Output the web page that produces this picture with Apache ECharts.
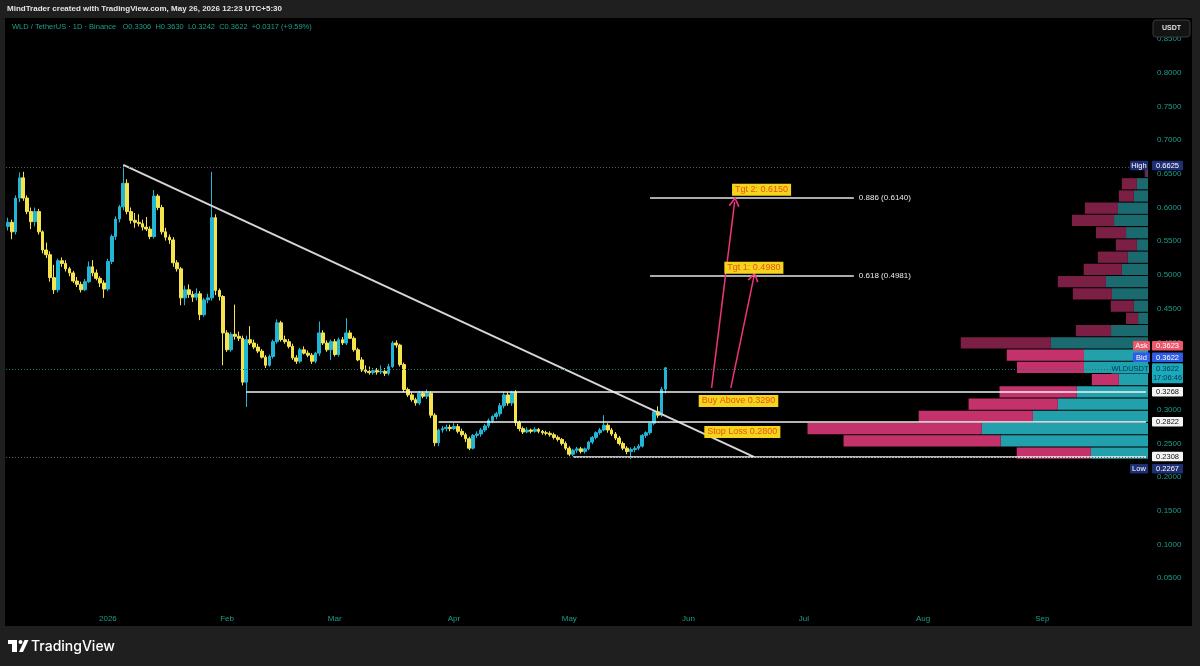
<!DOCTYPE html>
<html lang="en">
	<head>
		<meta charset="UTF-8">
		<title>WLD / TetherUS 1D</title>
		<script src="https://cdn.jsdelivr.net/npm/echarts@6/dist/echarts.min.js"></script>
		<style>
			html, body { margin: 0; padding: 0; background: #1f1f1f; }
			#chart { width: 1200px; height: 666px; }
		</style>
	</head>
	<body>
		<div id="chart"></div>

		<script>
			// daily candles from 2025-12-06 to 2026-05-26, [open, high, low, close]
			const candles = [
				[0.572, 0.585, 0.566, 0.578], [0.578, 0.582, 0.553, 0.564], [0.564, 0.618, 0.560, 0.614], [0.614, 0.652, 0.608, 0.644],
				[0.644, 0.653, 0.610, 0.614], [0.614, 0.618, 0.590, 0.594], [0.594, 0.600, 0.568, 0.579], [0.579, 0.600, 0.572, 0.594],
				[0.594, 0.598, 0.560, 0.564], [0.564, 0.566, 0.532, 0.537], [0.537, 0.548, 0.525, 0.530], [0.530, 0.535, 0.490, 0.496],
				[0.496, 0.515, 0.472, 0.478], [0.478, 0.524, 0.474, 0.521], [0.521, 0.526, 0.512, 0.517], [0.517, 0.522, 0.505, 0.509],
				[0.509, 0.512, 0.498, 0.503], [0.503, 0.506, 0.488, 0.491], [0.491, 0.497, 0.482, 0.486], [0.486, 0.490, 0.474, 0.478],
				[0.478, 0.494, 0.476, 0.490], [0.490, 0.520, 0.488, 0.512], [0.512, 0.522, 0.498, 0.503], [0.503, 0.508, 0.492, 0.495],
				[0.495, 0.498, 0.482, 0.488], [0.488, 0.492, 0.466, 0.479], [0.479, 0.524, 0.476, 0.520], [0.520, 0.560, 0.516, 0.557],
				[0.557, 0.587, 0.552, 0.583], [0.583, 0.604, 0.578, 0.601], [0.601, 0.6625, 0.596, 0.636], [0.636, 0.642, 0.590, 0.594],
				[0.594, 0.600, 0.576, 0.581], [0.581, 0.592, 0.570, 0.578], [0.578, 0.590, 0.572, 0.576], [0.576, 0.582, 0.566, 0.571],
				[0.571, 0.586, 0.565, 0.568], [0.568, 0.572, 0.553, 0.557], [0.557, 0.626, 0.554, 0.617], [0.617, 0.620, 0.596, 0.600],
				[0.600, 0.604, 0.560, 0.564], [0.564, 0.570, 0.551, 0.556], [0.556, 0.560, 0.546, 0.552], [0.552, 0.556, 0.512, 0.518],
				[0.518, 0.522, 0.505, 0.509], [0.509, 0.512, 0.455, 0.466], [0.466, 0.484, 0.455, 0.478], [0.478, 0.486, 0.466, 0.471],
				[0.471, 0.476, 0.460, 0.467], [0.467, 0.480, 0.462, 0.472], [0.472, 0.476, 0.433, 0.441], [0.441, 0.466, 0.438, 0.463],
				[0.463, 0.472, 0.458, 0.466], [0.466, 0.653, 0.462, 0.585], [0.585, 0.590, 0.470, 0.477], [0.477, 0.480, 0.462, 0.468],
				[0.468, 0.470, 0.366, 0.414], [0.414, 0.418, 0.386, 0.389], [0.389, 0.415, 0.386, 0.412], [0.412, 0.456, 0.404, 0.409],
				[0.409, 0.416, 0.402, 0.406], [0.406, 0.410, 0.336, 0.341], [0.341, 0.410, 0.304, 0.404], [0.404, 0.424, 0.396, 0.399],
				[0.399, 0.404, 0.390, 0.393], [0.393, 0.398, 0.384, 0.387], [0.387, 0.390, 0.376, 0.378], [0.378, 0.381, 0.362, 0.366],
				[0.366, 0.382, 0.364, 0.379], [0.379, 0.404, 0.376, 0.401], [0.401, 0.434, 0.398, 0.429], [0.429, 0.432, 0.401, 0.404],
				[0.404, 0.410, 0.398, 0.401], [0.401, 0.405, 0.391, 0.394], [0.394, 0.398, 0.374, 0.377], [0.377, 0.381, 0.368, 0.372],
				[0.372, 0.392, 0.369, 0.389], [0.389, 0.394, 0.382, 0.384], [0.384, 0.388, 0.378, 0.381], [0.381, 0.384, 0.368, 0.372],
				[0.372, 0.386, 0.369, 0.384], [0.384, 0.431, 0.380, 0.414], [0.414, 0.418, 0.396, 0.399], [0.399, 0.403, 0.386, 0.389],
				[0.389, 0.404, 0.374, 0.401], [0.401, 0.405, 0.379, 0.382], [0.382, 0.407, 0.379, 0.404], [0.404, 0.408, 0.396, 0.399],
				[0.399, 0.436, 0.396, 0.414], [0.414, 0.418, 0.405, 0.406], [0.406, 0.409, 0.386, 0.389], [0.389, 0.392, 0.372, 0.374],
				[0.374, 0.378, 0.356, 0.359], [0.359, 0.366, 0.354, 0.357], [0.357, 0.364, 0.352, 0.355], [0.355, 0.362, 0.352, 0.358],
				[0.358, 0.362, 0.352, 0.356], [0.356, 0.366, 0.353, 0.357], [0.357, 0.362, 0.350, 0.354], [0.354, 0.368, 0.351, 0.364],
				[0.364, 0.402, 0.362, 0.399], [0.399, 0.403, 0.392, 0.396], [0.396, 0.398, 0.364, 0.367], [0.367, 0.370, 0.326, 0.330],
				[0.330, 0.333, 0.319, 0.322], [0.322, 0.326, 0.312, 0.315], [0.315, 0.318, 0.306, 0.310], [0.310, 0.328, 0.307, 0.3245],
				[0.3245, 0.327, 0.317, 0.320], [0.320, 0.330, 0.316, 0.3245], [0.3245, 0.327, 0.288, 0.292], [0.292, 0.295, 0.246, 0.251],
				[0.251, 0.272, 0.246, 0.270], [0.270, 0.276, 0.266, 0.272], [0.272, 0.278, 0.268, 0.274], [0.274, 0.278, 0.268, 0.272],
				[0.272, 0.280, 0.270, 0.275], [0.275, 0.279, 0.265, 0.268], [0.268, 0.272, 0.260, 0.263], [0.263, 0.266, 0.252, 0.257],
				[0.257, 0.260, 0.240, 0.243], [0.243, 0.264, 0.241, 0.262], [0.262, 0.268, 0.258, 0.264], [0.264, 0.273, 0.260, 0.270],
				[0.270, 0.279, 0.267, 0.276], [0.276, 0.287, 0.273, 0.284], [0.284, 0.292, 0.280, 0.290], [0.290, 0.297, 0.286, 0.294],
				[0.294, 0.310, 0.290, 0.306], [0.306, 0.327, 0.302, 0.322], [0.322, 0.326, 0.306, 0.310], [0.310, 0.328, 0.306, 0.326],
				[0.326, 0.329, 0.276, 0.281], [0.281, 0.284, 0.268, 0.272], [0.272, 0.275, 0.264, 0.267], [0.267, 0.274, 0.265, 0.270],
				[0.270, 0.272, 0.265, 0.268], [0.268, 0.274, 0.266, 0.271], [0.271, 0.273, 0.265, 0.268], [0.268, 0.270, 0.263, 0.266],
				[0.266, 0.269, 0.262, 0.265], [0.265, 0.268, 0.260, 0.263], [0.263, 0.266, 0.256, 0.259], [0.259, 0.262, 0.253, 0.256],
				[0.256, 0.258, 0.247, 0.250], [0.250, 0.253, 0.240, 0.243], [0.243, 0.246, 0.231, 0.234], [0.234, 0.242, 0.231, 0.240],
				[0.240, 0.245, 0.236, 0.242], [0.242, 0.245, 0.235, 0.238], [0.238, 0.244, 0.235, 0.242], [0.242, 0.254, 0.240, 0.252],
				[0.252, 0.261, 0.249, 0.259], [0.259, 0.268, 0.256, 0.266], [0.266, 0.273, 0.263, 0.270], [0.270, 0.292, 0.268, 0.277],
				[0.277, 0.280, 0.266, 0.270], [0.270, 0.273, 0.261, 0.264], [0.264, 0.267, 0.255, 0.258], [0.258, 0.261, 0.247, 0.250],
				[0.250, 0.253, 0.240, 0.243], [0.243, 0.246, 0.234, 0.238], [0.238, 0.244, 0.2267, 0.241], [0.241, 0.246, 0.237, 0.243],
				[0.243, 0.249, 0.240, 0.246], [0.246, 0.264, 0.244, 0.262], [0.262, 0.268, 0.258, 0.266], [0.266, 0.282, 0.263, 0.280],
				[0.280, 0.299, 0.277, 0.297], [0.297, 0.305, 0.288, 0.292], [0.292, 0.334, 0.289, 0.3305], [0.3306, 0.3630, 0.3242, 0.3622]
			];

			// volume profile rows, top (High) to bottom (Low)
			const profileHigh = 0.6625;
			const profileLow = 0.2267;
			const buyVol = [0.3, 3.7, 4.7, 10.0, 11.3, 7.3, 3.7, 6.7, 8.7, 14.0, 12.0, 4.7, 3.3, 12.3, 32.3, 21.3, 21.3, 9.7, 23.7, 30.0, 38.3, 55.3, 49.0, 19.0];
			const sellVol = [0.8, 5.0, 5.0, 11.0, 14.0, 10.0, 7.0, 10.0, 12.7, 16.0, 13.0, 7.7, 4.0, 11.7, 30.0, 25.7, 22.3, 9.0, 25.7, 29.7, 38.0, 58.0, 52.3, 24.7];
			const valueAreaFirstRow = 15;

			// drawings: [date index, price]
			const trendLine = [[30, 0.6634], [194, 0.2300]];
			const levels = [[62, 0.3268], [112, 0.2822], [147, 0.2308]];
			const fibs = [['0.886', 0.6140], ['0.618', 0.4981]];
			const fibSpan = [167, 220];
			const arrows = [[[183, 0.3324], [189, 0.6085]], [[188, 0.3324], [194, 0.4972]]];
			const notes = [
				['Tgt 2: 0.6150', 196, 0.6263],
				['Tgt 1: 0.4980', 194, 0.5105],
				['Buy Above 0.3290', 190, 0.3131],
				['Stop Loss 0.2800', 191, 0.2671]
			];
			const lastPrice = 0.3622;
			const askPrice = 0.3623;
			const bidPrice = 0.3622;
			const monthNames = ['Jan', 'Feb', 'Mar', 'Apr', 'May', 'Jun', 'Jul', 'Aug', 'Sep', 'Oct', 'Nov', 'Dec'];

			// 날짜 축 (2025-12-06 ~ 2026-09-28)
			const dates = [];
			for (let k = 0, t = Date.UTC(2025, 11, 6); k < 297; k++, t += 86400000) {
				dates.push(new Date(t).toISOString().slice(0, 10));
			}

			const rowH = (profileHigh - profileLow) / buyVol.length;
			const profileData = buyVol.map((b, k) => [profileHigh - k * rowH, profileHigh - (k + 1) * rowH, b, sellVol[k], k >= valueAreaFirstRow ? 1 : 0]);

			const FONT = '"Liberation Sans", "DejaVu Sans", sans-serif';
			const AXIS_TXT = '#1d9d8e';
			const chevron = 'path://M5,0 L10,8 L8.8,9 L5,2.6 L1.2,9 L0,8 Z';

			const noLabel = { show: false };
			const lineData = [];
			// trend line
			lineData.push([
				{ coord: [dates[trendLine[0][0]], trendLine[0][1]], lineStyle: { color: '#d6d6d6', width: 2, type: 'solid' }, label: noLabel },
				{ coord: [dates[trendLine[1][0]], trendLine[1][1]] }
			]);
			// level lines to the right edge
			levels.forEach(l => {
				lineData.push([
					{ coord: [dates[l[0]], l[1]], lineStyle: { color: '#f2f2f2', width: 1.5, type: 'solid' }, label: noLabel },
					{ coord: [dates[dates.length - 1], l[1]] }
				]);
			});
			// fib levels
			fibs.forEach(f => {
				lineData.push([
					{
						coord: [dates[fibSpan[0]], f[1]],
						lineStyle: { color: '#e6e6e6', width: 1.5, type: 'solid' },
						label: { show: true, position: 'end', distance: 5, formatter: f[0] + ' (' + f[1].toFixed(4) + ')', color: '#ececec', fontSize: 8, fontFamily: FONT }
					},
					{ coord: [dates[fibSpan[1]], f[1]] }
				]);
			});
			// arrows
			arrows.forEach(a => {
				lineData.push([
					{ coord: [dates[a[0][0]], a[0][1]], lineStyle: { color: '#f2337c', width: 1.5, type: 'solid' }, label: noLabel, symbol: 'none' },
					{ coord: [dates[a[1][0]], a[1][1]], symbol: chevron, symbolSize: [11, 10] }
				]);
			});
			// dotted price lines
			lineData.push({ yAxis: profileHigh, lineStyle: { color: '#5a5a5a', width: 1, type: [1, 2] }, label: noLabel });
			lineData.push({ yAxis: profileLow, lineStyle: { color: '#5a5a5a', width: 1, type: [1, 2] }, label: noLabel });
			lineData.push({ yAxis: lastPrice, lineStyle: { color: '#1d6f72', width: 1, type: [1, 2] }, label: noLabel });

			const chartDom = document.getElementById('chart');
			const chart = echarts.init(chartDom, null, { renderer: 'canvas' });

			chart.setOption({
				backgroundColor: '#000000',
				animation: false,
				grid: { left: 6, right: 52, top: 39, bottom: 54, containLabel: false },
				xAxis: [
					{
						type: 'category',
						data: dates,
						boundaryGap: true,
						axisLine: { show: false },
						axisTick: { show: false },
						splitLine: { show: false },
						axisLabel: {
							color: AXIS_TXT,
							fontSize: 8,
							fontFamily: FONT,
							margin: 3,
							interval: (i, v) => v.slice(8) === '01',
							formatter: v => (v.slice(5, 7) === '01' ? v.slice(0, 4) : monthNames[+v.slice(5, 7) - 1])
						}
					},
					{ type: 'value', inverse: true, min: 0, max: 380, show: false }
				],
				yAxis: {
					type: 'value',
					position: 'right',
					min: 0,
					max: 0.85,
					interval: 0.05,
					axisLine: { show: false },
					axisTick: { show: false },
					splitLine: { show: false },
					axisLabel: {
						color: AXIS_TXT,
						fontSize: 8,
						fontFamily: FONT,
						margin: 9,
						formatter: v => (v === 0 ? '' : v.toFixed(4))
					}
				},
				series: [
					{
						// 매물대 (volume profile)
						type: 'custom',
						xAxisIndex: 1,
						yAxisIndex: 0,
						z: 1,
						silent: true,
						data: profileData,
						encode: { x: [2, 3], y: [0, 1] },
						renderItem: (params, api) => {
							const top = api.value(0), bot = api.value(1), buy = api.value(2), sell = api.value(3), va = api.value(4);
							const r = api.coord([0, top]);
							const b = api.coord([buy, bot]);
							const s = api.coord([buy + sell, bot]);
							const y = r[1] + 0.5;
							const h = Math.max(b[1] - r[1] - 1, 0.5);
							return {
								type: 'group',
								children: [
									{ type: 'rect', shape: { x: b[0], y: y, width: r[0] - b[0], height: h }, style: { fill: va ? '#22a0ab' : '#1b6a6f' } },
									{ type: 'rect', shape: { x: s[0], y: y, width: b[0] - s[0], height: h }, style: { fill: va ? '#c4326b' : '#7b1f44' } }
								]
							};
						}
					},
					{
						type: 'candlestick',
						name: 'WLDUSDT',
						z: 3,
						barWidth: '85%',
						data: candles.map(c => [c[0], c[3], c[2], c[1]]),
						itemStyle: {
							color: '#22b6d6',
							color0: '#f5e44c',
							borderColor: '#22b6d6',
							borderColor0: '#f5e44c',
							borderWidth: 1
						},
						markLine: {
							silent: true,
							symbol: 'none',
							animation: false,
							data: lineData
						}
					},
					{
						// 메모 라벨
						type: 'scatter',
						z: 10,
						silent: true,
						symbolSize: 1,
						itemStyle: { color: 'rgba(0,0,0,0)', opacity: 1 },
						data: notes.map(n => [dates[n[1]], n[2], n[0]]),
						label: {
							show: true,
							position: 'inside',
							formatter: p => p.data[2],
							backgroundColor: '#f5d41c',
							color: '#e8541a',
							fontSize: 9,
							fontFamily: FONT,
							opacity: 1,
							padding: [2, 3, 1, 3]
						}
					}
				]
			});

			// 가격축 태그
			const yPx = v => chart.convertToPixel({ yAxisIndex: 0 }, v);
			const TAG_FONT = '7.5px ' + FONT;
			function tag(x, yc, w, h, text, bg, fg) {
				return [
					{ type: 'rect', z: 100, shape: { x: x, y: yc - h / 2, width: w, height: h, r: 1 }, style: { fill: bg } },
					{ type: 'text', z: 101, style: { x: x + w / 2, y: yc + 0.5, text: text, fill: fg, font: TAG_FONT, align: 'center', verticalAlign: 'middle', lineHeight: 9 } }
				];
			}

			const highY = yPx(profileHigh);
			const lowY = yPx(profileLow) + 9.5;
			const lastY = yPx(lastPrice);
			const els = [];
			// frame
			els.push({ type: 'rect', z: 50, shape: { x: 0, y: 0, width: 1200, height: 18 }, style: { fill: '#1f1f1f' } });
			els.push({ type: 'rect', z: 50, shape: { x: 0, y: 626, width: 1200, height: 40 }, style: { fill: '#1f1f1f' } });
			els.push({ type: 'rect', z: 50, shape: { x: 0, y: 0, width: 5, height: 666 }, style: { fill: '#1f1f1f' } });
			els.push({ type: 'rect', z: 50, shape: { x: 1192, y: 0, width: 8, height: 666 }, style: { fill: '#1f1f1f' } });
			els.push({ type: 'text', z: 51, style: { x: 7, y: 9, text: 'MindTrader created with TradingView.com, May 26, 2026 12:23 UTC+5:30', fill: '#e4e4e4', font: 'bold 8px ' + FONT, verticalAlign: 'middle' } });
			els.push({ type: 'text', z: 51, style: { x: 12, y: 27, text: 'WLD / TetherUS · 1D · Binance   O0.3306  H0.3630  L0.3242  C0.3622  +0.0317 (+9.59%)', fill: AXIS_TXT, font: '7.5px ' + FONT, verticalAlign: 'middle' } });
			// USDT box
			els.push({ type: 'rect', z: 100, shape: { x: 1153, y: 20, width: 37, height: 17, r: 3 }, style: { fill: '#141414', stroke: '#3a3a3a', lineWidth: 1 } });
			els.push({ type: 'text', z: 101, style: { x: 1171.5, y: 28.5, text: 'USDT', fill: '#e0e0e0', font: 'bold 7px ' + FONT, align: 'center', verticalAlign: 'middle' } });
			// High / Low
			els.push(...tag(1130, highY, 18, 9.5, 'High', '#1f2f73', '#ffffff'));
			els.push(...tag(1152, highY, 31, 9.5, profileHigh.toFixed(4), '#1f2f73', '#ffffff'));
			els.push(...tag(1130, lowY, 18, 9.5, 'Low', '#1f2f73', '#ffffff'));
			els.push(...tag(1152, lowY, 31, 9.5, profileLow.toFixed(4), '#1f2f73', '#ffffff'));
			// Ask / Bid / last
			els.push(...tag(1133, lastY - 22, 17, 9.5, 'Ask', '#f0566a', '#ffffff'));
			els.push(...tag(1152, lastY - 22, 31, 9.5, askPrice.toFixed(4), '#f0566a', '#ffffff'));
			els.push(...tag(1133, lastY - 10.5, 17, 9.5, 'Bid', '#2f5ce6', '#ffffff'));
			els.push(...tag(1152, lastY - 10.5, 31, 9.5, bidPrice.toFixed(4), '#2f5ce6', '#ffffff'));
			els.push(...tag(1111, lastY + 1, 38, 9.5, 'WLDUSDT', '#1aa3b4', '#0c3440'));
			els.push(...tag(1152, lastY + 5.5, 31, 20, lastPrice.toFixed(4) + '\n17:06:46', '#1aa9bd', '#0c3440'));
			// level tags
			levels.forEach(l => {
				els.push(...tag(1152, yPx(l[1]), 31, 9.5, l[1].toFixed(4), '#f4f4f4', '#111111'));
			});
			// TradingView logo
			els.push({ type: 'rect', z: 51, shape: { x: 8, y: 640, width: 9, height: 4 }, style: { fill: '#ffffff' } });
			els.push({ type: 'rect', z: 51, shape: { x: 12, y: 640, width: 5, height: 12 }, style: { fill: '#ffffff' } });
			els.push({ type: 'circle', z: 51, shape: { cx: 20.5, cy: 642, r: 2 }, style: { fill: '#ffffff' } });
			els.push({ type: 'polygon', z: 51, shape: { points: [[19, 652], [24.5, 640], [28.5, 640], [23, 652]] }, style: { fill: '#ffffff' } });
			els.push({ type: 'text', z: 51, style: { x: 31, y: 646.5, text: 'TradingView', fill: '#ffffff', font: '500 14px Inter, Roboto, sans-serif', verticalAlign: 'middle' } });

			chart.setOption({ graphic: { elements: els } });
		</script>
	</body>
</html>
